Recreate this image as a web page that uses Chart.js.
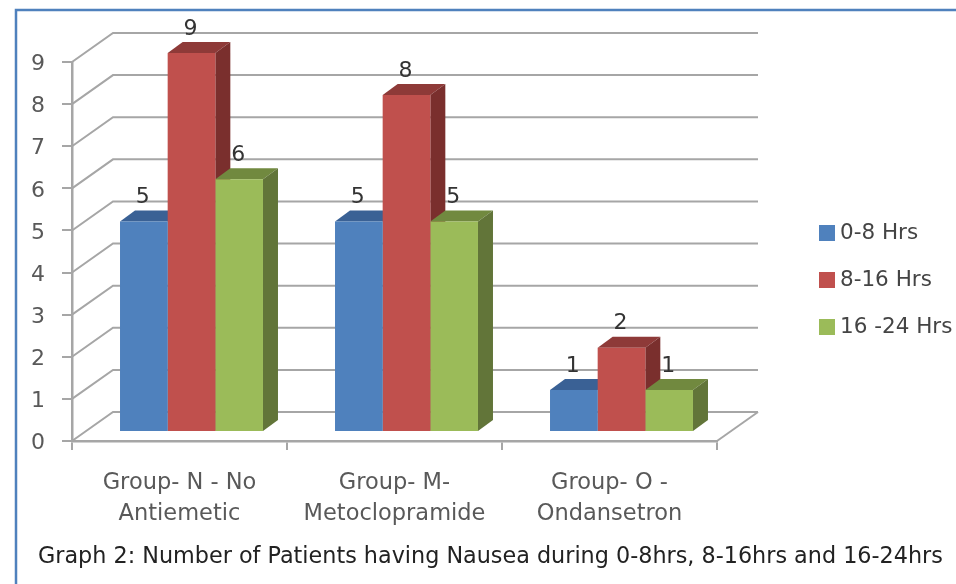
<!DOCTYPE html>
<html>
<head>
<meta charset="utf-8">
<title>Graph 2</title>
<script src="https://cdn.jsdelivr.net/npm/chart.js@4"></script>
<style>
  html, body { margin: 0; padding: 0; background: #fff; }
  #wrap { width: 956px; height: 584px; overflow: hidden; }
  canvas { display: block; filter: blur(0.7px); }
</style>
</head>
<body>
<div id="wrap"><canvas id="myChart" width="956" height="584"></canvas></div>
<script>
const categories = [['Group- N - No', 'Antiemetic'], ['Group- M-', 'Metoclopramide'], ['Group- O -', 'Ondansetron']];
const seriesNames = ['0-8 Hrs', '8-16 Hrs', '16 -24 Hrs'];
const hrs0to8 = [5, 5, 1];
const hrs8to16 = [9, 8, 2];
const hrs16to24 = [6, 5, 1];
const yTicks = [0, 1, 2, 3, 4, 5, 6, 7, 8, 9];
const caption = 'Graph 2: Number of Patients having Nausea during 0-8hrs, 8-16hrs and 16-24hrs';

const FONT = '"DejaVu Sans", sans-serif';
const GRID = '#a6a6a6';
const sideColors = ['#34587f', '#7a2f2d', '#627539'];
const topColors = ['#3a6195', '#8e3a38', '#71893f'];

// the bars stand a bit inside the floor, and have a depth
const barShift = { x: 12, y: -9 };
const barDepth = { x: 15, y: -11 };
const wallShift = { x: 41, y: -29 };

function poly(ctx, pts, color) {
  ctx.fillStyle = color;
  ctx.beginPath();
  pts.forEach(function(p, i) {
    if (i === 0) ctx.moveTo(p[0], p[1]); else ctx.lineTo(p[0], p[1]);
  });
  ctx.closePath();
  ctx.fill();
}

const fake3d = {
  id: 'fake3d',
  beforeDraw(chart) {
    const ctx = chart.ctx;
    // frame round the figure
    ctx.save();
    ctx.strokeStyle = '#4f81bd';
    ctx.lineWidth = 2.5;
    ctx.beginPath();
    ctx.moveTo(16, 584);
    ctx.lineTo(16, 10);
    ctx.lineTo(956, 10);
    ctx.stroke();
    ctx.restore();
  },
  beforeDatasetsDraw(chart) {
    const ctx = chart.ctx;
    const area = chart.chartArea;
    const y = chart.scales.y;
    // walls
    ctx.save();
    ctx.strokeStyle = GRID;
    ctx.lineWidth = 2;
    yTicks.forEach(function(t) {
      const py = y.getPixelForValue(t);
      ctx.beginPath();
      ctx.moveTo(area.left, py);
      ctx.lineTo(area.left + wallShift.x, py + wallShift.y);
      ctx.lineTo(area.right + wallShift.x, py + wallShift.y);
      ctx.stroke();
    });
    ctx.beginPath();
    ctx.moveTo(area.right, area.bottom);
    ctx.lineTo(area.right + wallShift.x, area.bottom + wallShift.y);
    ctx.stroke();
    ctx.restore();

    ctx.save();
    ctx.translate(barShift.x, barShift.y);
    // tops and sides first, the library then paints the fronts over them
    chart.data.datasets.forEach(function(ds, i) {
      chart.getDatasetMeta(i).data.forEach(function(bar) {
        const p = bar.getProps(['x', 'y', 'base', 'width'], true);
        const l = p.x - p.width / 2;
        const r = p.x + p.width / 2;
        poly(ctx, [[l, p.y], [l + barDepth.x, p.y + barDepth.y], [r + barDepth.x, p.y + barDepth.y], [r, p.y]], topColors[i]);
        poly(ctx, [[r, p.y], [r + barDepth.x, p.y + barDepth.y], [r + barDepth.x, p.base + barDepth.y], [r, p.base]], sideColors[i]);
      });
    });
  },
  afterDatasetsDraw(chart) {
    const ctx = chart.ctx;
    ctx.font = '22px ' + FONT;
    ctx.fillStyle = '#333';
    ctx.textAlign = 'center';
    ctx.textBaseline = 'middle';
    chart.data.datasets.forEach(function(ds, i) {
      chart.getDatasetMeta(i).data.forEach(function(bar, j) {
        ctx.fillText(ds.data[j], bar.x - 1, bar.y - 24);
      });
    });
    ctx.restore();

    // legend
    ctx.save();
    ctx.font = '21.5px ' + FONT;
    ctx.textAlign = 'left';
    ctx.textBaseline = 'middle';
    chart.data.datasets.forEach(function(ds, i) {
      const rowY = 233 + i * 47;
      ctx.fillStyle = ds.backgroundColor;
      ctx.fillRect(819, rowY - 8, 16, 16);
      ctx.fillStyle = '#444';
      ctx.fillText(ds.label, 840, rowY);
    });
    // caption
    ctx.fillStyle = '#222';
    ctx.font = '22.3px ' + FONT;
    ctx.fillText(caption, 38, 557);
    ctx.restore();
  }
};

new Chart(document.getElementById('myChart').getContext('2d'), {
  type: 'bar',
  data: {
    labels: categories,
    datasets: [
      { label: seriesNames[0], data: hrs0to8, backgroundColor: '#4f81bd', clip: false },
      { label: seriesNames[1], data: hrs8to16, backgroundColor: '#c0504d', clip: false },
      { label: seriesNames[2], data: hrs16to24, backgroundColor: '#9bbb59', clip: false }
    ]
  },
  options: {
    responsive: false,
    animation: false,
    devicePixelRatio: 1,
    layout: { padding: { left: 0, top: 62, right: 239, bottom: 0 } },
    datasets: { bar: { categoryPercentage: 0.665, barPercentage: 1, borderWidth: 0 } },
    plugins: { legend: { display: false }, tooltip: { enabled: false }, title: { display: false } },
    scales: {
      x: {
        afterFit(scale) { scale.height = 143; },
        grid: { drawOnChartArea: false, color: GRID, tickColor: GRID, tickLength: 9, lineWidth: 2 },
        border: { color: GRID, width: 2.5 },
        ticks: { color: '#595959', padding: 18, maxRotation: 0, autoSkip: false, font: { family: FONT, size: 22.5, lineHeight: '31px' } }
      },
      y: {
        min: 0,
        max: 9,
        afterFit(scale) { scale.width = 72; },
        afterBuildTicks(scale) { scale.ticks = yTicks.map(function(v) { return { value: v }; }); },
        grid: { drawOnChartArea: false, color: GRID, tickColor: GRID, tickLength: 10, lineWidth: 2 },
        border: { color: GRID, width: 2.5 },
        // empty first line pushes the digit down a little, as in the picture
        ticks: {
          color: '#595959',
          padding: 17,
          font: { family: FONT, size: 22, lineHeight: '5px' },
          callback(v) { return ['', v]; }
        }
      }
    }
  },
  plugins: [fake3d]
});
</script>
</body>
</html>
